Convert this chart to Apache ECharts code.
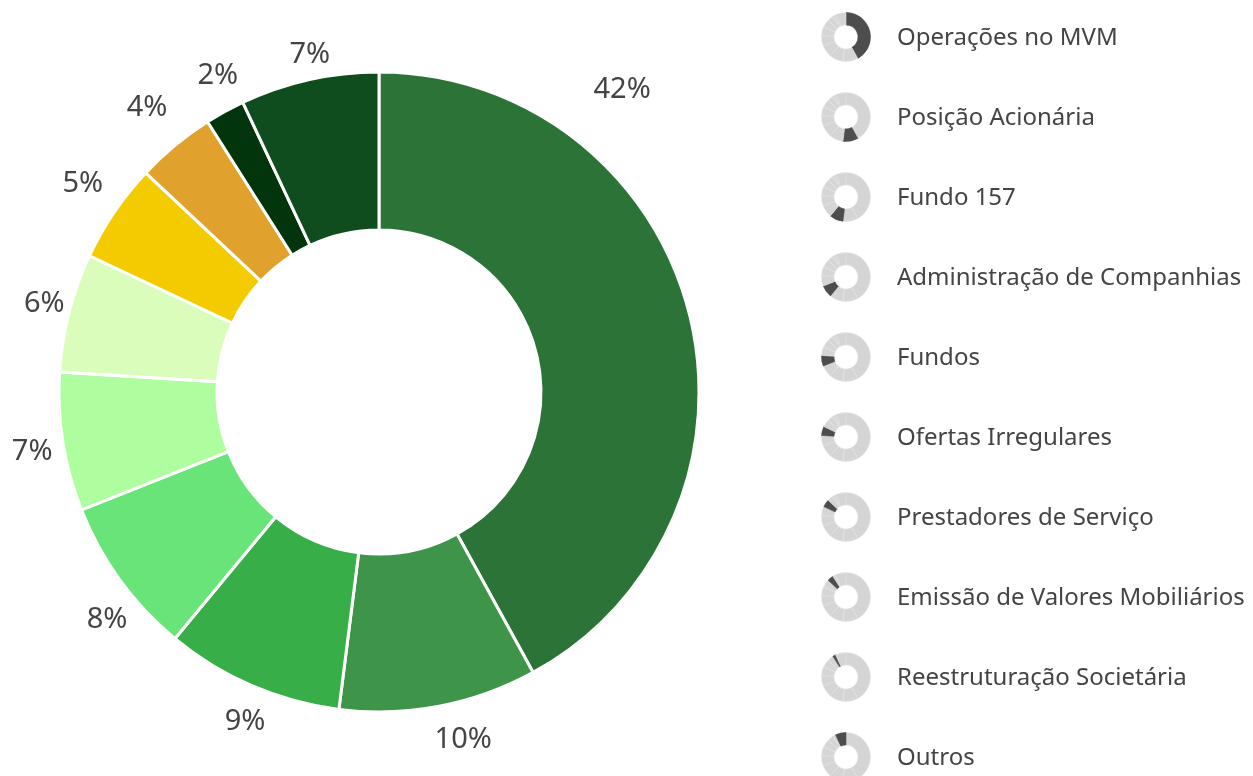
<!DOCTYPE html>
<html>
<head>
<meta charset="utf-8">
<script src="https://cdn.jsdelivr.net/npm/echarts@6/dist/echarts.min.js"></script>
<style>
  html, body { margin: 0; padding: 0; background: #fff; }
  #chart { width: 1253px; height: 776px; }
</style>
</head>
<body>
<div id="chart"></div>
<script>
const categories = [
  'Operações no MVM',
  'Posição Acionária',
  'Fundo 157',
  'Administração de Companhias',
  'Fundos',
  'Ofertas Irregulares',
  'Prestadores de Serviço',
  'Emissão de Valores Mobiliários',
  'Reestruturação Societária',
  'Outros'
]
const shares = [42, 10, 9, 8, 7, 6, 5, 4, 2, 7]
const sliceColors = [
  '#2b7336', '#3e9448', '#37ae47', '#68e478', '#aefea0',
  '#dbfdbb', '#f3cb00', '#e1a22d', '#02350c', '#0f4d1f'
]

// donut geometry (px)
const cx = 379
const cy = 392
// label nudges: [angle shift from slice middle (deg), distance from centre (px)]
const labelNudge = [
  [-36.8, 388], [-2.8, 358], [-1.3, 356], [-4, 355], [-0.8, 352],
  [0.3, 346], [0.9, 362], [0.4, 367], [1.8, 355], [1, 344]
]

const total = shares.reduce((a, b) => a + b, 0)
const midAngles = []
let acc = 0
shares.forEach(v => {
  midAngles.push((acc + v / 2) / total * 360)
  acc += v
})

const font = '"Noto Sans", "Open Sans", sans-serif'

const mainSeries = {
  type: 'pie',
  center: [cx, cy],
  radius: [162, 320],
  startAngle: 90,
  silent: true,
  avoidLabelOverlap: false,
  itemStyle: { borderColor: '#fff', borderWidth: 3 },
  label: {
    show: true,
    position: 'outside',
    formatter: p => p.value + '%',
    fontFamily: font,
    fontSize: 29,
    color: '#444',
    overflow: 'none'
  },
  labelLine: { show: false, length: 0, length2: 0 },
  labelLayout: params => {
    const [da, r] = labelNudge[params.dataIndex]
    const a = (midAngles[params.dataIndex] + da) * Math.PI / 180
    return {
      x: cx + r * Math.sin(a),
      y: cy - r * Math.cos(a),
      align: 'center',
      verticalAlign: 'middle'
    }
  },
  data: shares.map((v, i) => ({
    name: categories[i],
    value: v,
    itemStyle: { color: sliceColors[i] }
  }))
}

// small grey donuts used as legend markers
const iconSeries = categories.map((name, i) => ({
  type: 'pie',
  center: [846, 37 + 80 * i],
  radius: [12, 24.5],
  startAngle: 90,
  silent: true,
  label: { show: false },
  labelLine: { show: false },
  itemStyle: { borderColor: '#e4e4e4', borderWidth: 0.6 },
  data: shares.map((v, j) => ({
    name: categories[j],
    value: v,
    itemStyle: j === i ? { color: '#4d4d4d', borderColor: '#4d4d4d' } : { color: '#d5d5d5' }
  }))
}))

const legendTexts = categories.map((name, i) => ({
  type: 'text',
  x: 897,
  y: 38 + 80 * i,
  silent: true,
  style: {
    text: name,
    font: '24px ' + font,
    fill: '#444',
    textVerticalAlign: 'middle'
  }
}))

const chart = echarts.init(document.getElementById('chart'))
chart.setOption({
  animation: false,
  series: [mainSeries, ...iconSeries],
  graphic: legendTexts
})
</script>
</body>
</html>
